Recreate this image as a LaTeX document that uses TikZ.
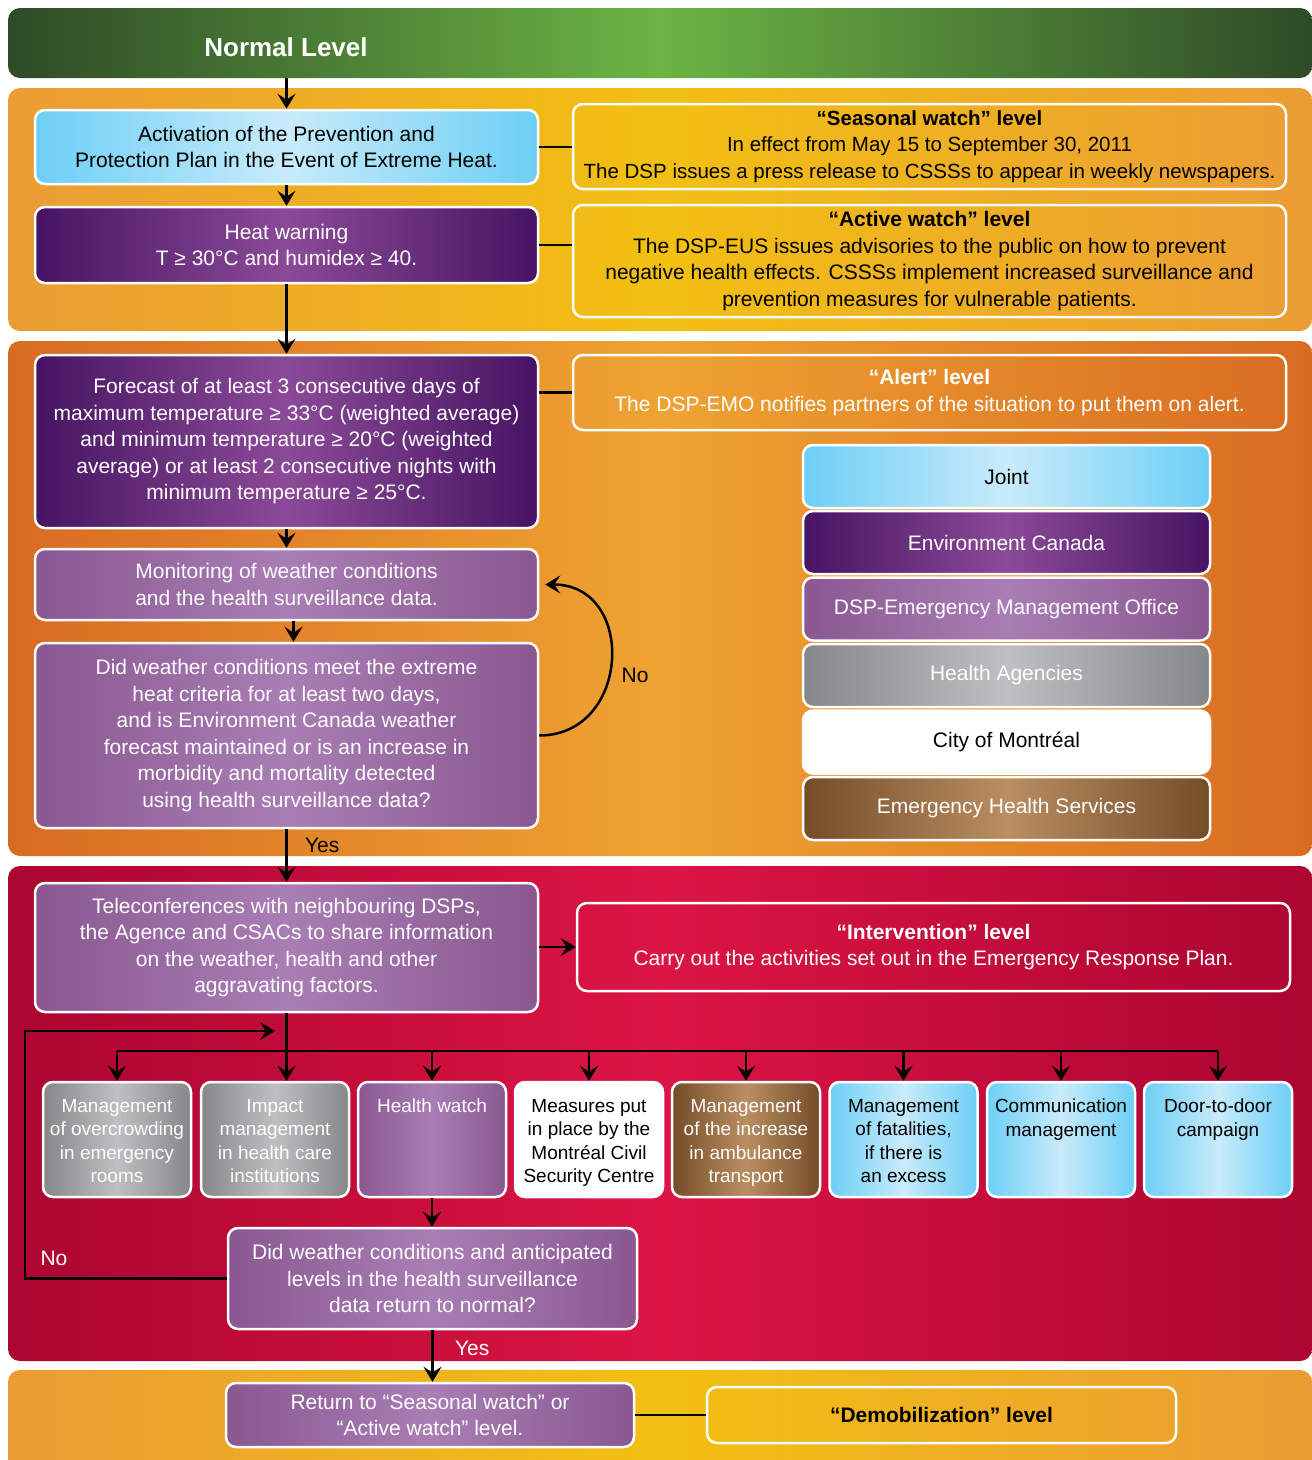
\documentclass[tikz,border=0pt]{standalone}
\usepackage{fontspec}
\setmainfont{Liberation Sans}
\usetikzlibrary{arrows.meta,positioning,calc}
\definecolor{SkyEdge}{HTML}{6DCFF6}
\definecolor{SkyMid}{HTML}{C8EBFA}
\definecolor{PlumEdge}{HTML}{461463}
\definecolor{PlumMid}{HTML}{8B4A97}
\definecolor{LilacEdge}{HTML}{8A5791}
\definecolor{LilacMid}{HTML}{A97EB5}
\definecolor{AshEdge}{HTML}{858789}
\definecolor{AshMid}{HTML}{BEBFC0}
\definecolor{BarkEdge}{HTML}{744C28}
\definecolor{BarkMid}{HTML}{BA8E62}
\definecolor{LeafDark}{HTML}{2E4B27}
\definecolor{LeafLight}{HTML}{6CB444}
\definecolor{SunEdge}{HTML}{EB9C35}
\definecolor{SunMid}{HTML}{F2C012}
\definecolor{RustEdge}{HTML}{D86B22}
\definecolor{RustMid}{HTML}{EFA332}
\definecolor{WineEdge}{HTML}{AB0530}
\definecolor{WineMid}{HTML}{DC1545}

\tikzset{
	box/.style={draw=white, line width=2.5pt, rounded corners=10pt, align=center,
		font=\fontsize{21}{26.5}\selectfont, inner sep=4pt},
	skybox/.style={box, text=black, left color=SkyEdge, right color=SkyEdge, middle color=SkyMid},
	plumbox/.style={box, text=white, left color=PlumEdge, right color=PlumEdge, middle color=PlumMid},
	lilacbox/.style={box, text=white, left color=LilacEdge, right color=LilacEdge, middle color=LilacMid},
	ashbox/.style={box, text=white, left color=AshEdge, right color=AshEdge, middle color=AshMid},
	barkbox/.style={box, text=white, left color=BarkEdge, right color=BarkEdge, middle color=BarkMid},
	whitebox/.style={box, text=black, fill=white},
	levelbox/.style={box, minimum width=713, text=black},
	task/.style={minimum width=148, minimum height=115, inner xsep=3pt, inner ysep=10pt,
		font=\fontsize{19}{23.6}\selectfont},
	flowarrow/.style={-{Stealth[length=15pt,width=18pt,inset=6pt]}, line width=2.5pt},
	link/.style={line width=2.5pt},
	note/.style={font=\fontsize{21}{26.5}\selectfont}
}
\newcommand{\tasktext}[1]{\parbox[c][95pt][t]{142pt}{\centering\vspace*{7pt}#1}}

\begin{document}
\begin{tikzpicture}[x=1pt, y=-1pt]
	\useasboundingbox (0,0) rectangle (1312,1460);
	% background bands
	\shade[rounded corners=12pt, left color=LeafDark, right color=LeafDark, middle color=LeafLight] (8,8) rectangle (1312,78);
	\shade[rounded corners=12pt, left color=SunEdge, right color=SunEdge, middle color=SunMid] (8,88) rectangle (1312,331);
	\shade[rounded corners=12pt, left color=RustEdge, right color=RustEdge, middle color=RustMid] (8,341) rectangle (1312,856);
	\shade[rounded corners=12pt, left color=WineEdge, right color=WineEdge, middle color=WineMid] (8,866) rectangle (1312,1361);
	\shade[rounded corners=12pt, left color=SunEdge, right color=SunEdge, middle color=SunMid] (8,1370) rectangle (1312,1475);
	\node[text=white, font=\fontsize{26}{30}\selectfont\bfseries] (normal) at (286,47) {Normal Level};
	
	% watch levels
	\node[skybox, minimum width=503, minimum height=74] (activation) at (286.5,147)
		{Activation of the Prevention and\\Protection Plan in the Event of Extreme Heat.};
	\node[plumbox, minimum width=503, minimum height=76] (warning) at (286.5,245)
		{Heat warning\\T ≥ 30°C and humidex ≥ 40.};
	\node[levelbox, minimum height=85, font=\fontsize{20.5}{26.5}\selectfont] (seasonal) at (929.5,146.5)
		{\textbf{“Seasonal watch” level}\\In effect from May 15 to September 30, 2011\\The DSP issues a press release to CSSSs to appear in weekly newspapers.};
	\node[levelbox, minimum height=112] (active) at (929.5,261)
		{\textbf{“Active watch” level}\\The DSP-EUS issues advisories to the public on how to prevent\\negative health effects. CSSSs implement increased surveillance and\\prevention measures for vulnerable patients.};
	\coordinate (normalfoot) at (286.5,78);
	\draw[flowarrow] (normalfoot) -- (activation.north);
	\draw[flowarrow] (activation) -- (warning);
	\draw[link] (activation.east) -- (activation.east -| seasonal.west);
	\draw[link] (warning.east) -- (warning.east -| active.west);
	
	% alert level
	\node[plumbox, minimum width=503, minimum height=173] (forecast) at (286.5,441.5)
		{Forecast of at least 3 consecutive days of\\maximum temperature ≥ 33°C (weighted average)\\and minimum temperature ≥ 20°C (weighted\\average) or at least 2 consecutive nights with\\minimum temperature ≥ 25°C.};
	\node[levelbox, text=white, minimum height=75] (alert) at (929.5,392.5)
		{\textbf{“Alert” level}\\The DSP-EMO notifies partners of the situation to put them on alert.};
	\node[lilacbox, minimum width=503, minimum height=71] (monitor) at (286.5,584.5)
		{Monitoring of weather conditions\\and the health surveillance data.};
	\node[lilacbox, minimum width=503, minimum height=185] (criteria) at (286.5,735.5)
		{Did weather conditions meet the extreme\\heat criteria for at least two days,\\and is Environment Canada weather\\forecast maintained or is an increase in\\morbidity and mortality detected\\using health surveillance data?};
	\draw[flowarrow] (warning) -- (forecast);
	\draw[link] (forecast.east |- alert.west) -- (alert.west);
	\draw[flowarrow] (forecast) -- (monitor);
	\draw[flowarrow] ([xshift=7pt]monitor.south) -- ([xshift=7pt]criteria.north);
	\draw[flowarrow] (criteria.east) to[out=0, in=0, looseness=1.55] node[pos=0.43, right=8pt, note] {No} ([xshift=6pt]monitor.east);
	
	% legend
	\node[skybox, minimum width=407, minimum height=63] (joint) at (1006.5,476.5) {Joint};
	\node[plumbox, minimum width=407, minimum height=63] (envcan) at (1006.5,542.5) {Environment Canada};
	\node[lilacbox, minimum width=407, minimum height=63] (emo) at (1006.5,609) {DSP-Emergency Management Office};
	\node[ashbox, minimum width=407, minimum height=63] (agencies) at (1006.5,675.5) {Health Agencies};
	\node[whitebox, minimum width=407, minimum height=63] (city) at (1006.5,742) {City of Montréal};
	\node[barkbox, minimum width=407, minimum height=63] (ehs) at (1006.5,808.5) {Emergency Health Services};
	
	% intervention level
	\node[lilacbox, minimum width=503, minimum height=129] (tele) at (286.5,947.5)
		{Teleconferences with neighbouring DSPs,\\the Agence and CSACs to share information\\on the weather, health and other\\aggravating factors.};
	\node[levelbox, text=white, minimum height=88] (intervention) at (933.5,947)
		{\textbf{“Intervention” level}\\Carry out the activities set out in the Emergency Response Plan.};
	\draw[flowarrow] (criteria) -- node[pos=0.3, right=14pt, note] {Yes} (tele);
	\draw[flowarrow] (tele.east |- intervention.west) -- (intervention.west);
	
	% tasks
	\node[ashbox, task] (overcrowd) at (117,1139.5) {\tasktext{Management\\of overcrowding\\in emergency\\rooms}};
	\node[ashbox, task] (impact) at (275,1139.5) {\tasktext{Impact\\management\\in health care\\institutions}};
	\node[lilacbox, task] (healthwatch) at (432,1139.5) {\tasktext{Health watch}};
	\node[whitebox, task] (civil) at (589,1139.5) {\tasktext{Measures put\\in place by the\\Montréal Civil\\Security Centre}};
	\node[barkbox, task] (ambulance) at (746,1139.5) {\tasktext{Management\\of the increase\\in ambulance\\transport}};
	\node[skybox, task] (fatalities) at (903.5,1139.5) {\tasktext{Management\\of fatalities,\\if there is\\an excess}};
	\node[skybox, task] (communication) at (1061,1139.5) {\tasktext{Communication\\management}};
	\node[skybox, task] (doortodoor) at (1218,1139.5) {\tasktext{Door-to-door\\campaign}};
	\coordinate (bus) at (286.5,1051);
	\draw[flowarrow] (tele.south) -- (tele.south |- impact.north);
	\draw[link] (bus -| overcrowd.north) -- (bus -| doortodoor.north);
	\foreach \t in {overcrowd, healthwatch, civil, ambulance, fatalities, communication, doortodoor}
		\draw[flowarrow] (bus -| \t.north) -- (\t.north);
	
	% return check
	\node[lilacbox, minimum width=409, minimum height=101] (normalcheck) at (432.5,1278.5)
		{Did weather conditions and anticipated\\levels in the health surveillance\\data return to normal?};
	\draw[flowarrow] (healthwatch) -- (healthwatch |- normalcheck.north);
	\coordinate (loopcorner) at (25,1031);
	\coordinate (loopend) at (275,1031);
	\draw[flowarrow] (normalcheck.west) -| (loopcorner) -- (loopend);
	\node[note, text=white] (nolabel) at (54,1258) {No};
	
	% demobilization level
	\node[lilacbox, minimum width=408, minimum height=64] (back) at (430,1415)
		{Return to “Seasonal watch” or\\“Active watch” level.};
	\node[levelbox, minimum width=469, minimum height=56] (demob) at (941.5,1415)
		{\textbf{“Demobilization” level}};
	\draw[flowarrow] (normalcheck.south) -- node[pos=0.35, right=18pt, note, text=white] {Yes} (normalcheck.south |- back.north);
	\draw[link] (back) -- (demob);
\end{tikzpicture}
\end{document}
